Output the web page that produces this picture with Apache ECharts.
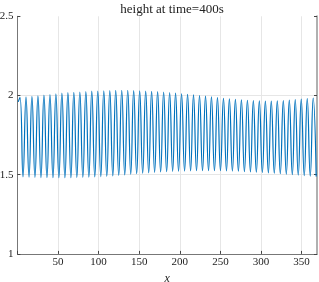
<!DOCTYPE html>
<html><head><meta charset="utf-8">
<script src="https://cdn.jsdelivr.net/npm/echarts@6/dist/echarts.min.js"></script>
<style>html,body{margin:0;padding:0;background:#fff}#c{width:319px;height:282px}</style>
</head><body><div id="c"></div>
<script>
const titleText = 'height at time=400s';
const xName = 'x';
const yTicks = [1, 1.5, 2, 2.5];
const xTicks = [50, 100, 150, 200, 250, 300, 350];
const startPoint = [1, 1.96];
const peakX = [3.2,10.6,17.9,25.3,32.7,40.1,47.4,54.8,62.2,69.5,76.9,84.3,91.6,99.0,106.4,113.8,121.1,128.5,135.9,143.2,150.6,158.0,165.3,172.7,180.1,187.5,194.8,202.2,209.6,216.9,224.3,231.7,239.0,246.4,253.8,261.1,268.5,275.9,283.3,290.6,298.0,305.4,312.7,320.1,327.5,334.9,342.2,349.6,357.0,364.3];
const peakY = [1.988,1.991,1.994,1.998,2.002,2.006,2.011,2.015,2.018,2.020,2.022,2.024,2.027,2.028,2.030,2.031,2.032,2.033,2.033,2.031,2.030,2.028,2.026,2.024,2.022,2.019,2.015,2.011,2.007,2.004,2.000,1.996,1.992,1.987,1.982,1.979,1.976,1.973,1.970,1.968,1.966,1.965,1.965,1.966,1.968,1.971,1.974,1.977,1.980,1.983];
const troughX = [6.9,14.3,21.6,29.0,36.4,43.8,51.1,58.5,65.9,73.2,80.6,88.0,95.3,102.7,110.1,117.5,124.8,132.2,139.6,146.9,154.3,161.7,169.0,176.4,183.8,191.2,198.5,205.9,213.3,220.6,228.0,235.4,242.7,250.1,257.5,264.8,272.2,279.6,287.0,294.3,301.7,309.1,316.4,323.8,331.2,338.6,345.9,353.3,360.7,368.0];
const troughY = [1.486,1.484,1.483,1.482,1.481,1.481,1.481,1.481,1.481,1.482,1.483,1.484,1.486,1.488,1.490,1.492,1.495,1.499,1.503,1.506,1.509,1.512,1.515,1.517,1.519,1.521,1.522,1.523,1.524,1.525,1.525,1.525,1.525,1.525,1.524,1.523,1.522,1.520,1.518,1.516,1.514,1.512,1.509,1.506,1.503,1.500,1.497,1.494,1.491,1.489];

const data = [startPoint];
for (let i = 0; i < peakX.length; i++) {
  data.push([peakX[i], peakY[i]]);
  data.push([troughX[i], troughY[i]]);
}

const serif = '"Liberation Serif", "DejaVu Serif", serif';
const chart = echarts.init(document.getElementById('c'), null, {renderer: 'canvas'});
chart.setOption({
  animation: false,
  title: {text: titleText, left: 167, top: -2, textAlign: 'center',
    textStyle: {fontFamily: serif, fontWeight: 'normal', fontSize: 13, color: '#222'}},
  grid: {left: 17.4, right: 2, top: 16.3, bottom: 28.1, containLabel: false, outerBoundsMode: 'none'},
  xAxis: {
    type: 'value', min: 0, max: 369, interval: 50,
    name: xName, nameLocation: 'middle', nameGap: 17,
    nameTextStyle: {fontFamily: serif, fontStyle: 'italic', fontSize: 12, color: '#222'},
    axisLine: {show: true, onZero: false, lineStyle: {color: '#777', width: 1}},
    axisTick: {show: true, inside: true, length: 3, lineStyle: {color: '#444'}},
    axisLabel: {fontFamily: serif, fontSize: 11, color: '#222', margin: 3, showMaxLabel: false,
      formatter: v => (xTicks.indexOf(v) >= 0 ? String(v) : '')},
    splitLine: {show: true, lineStyle: {color: '#e6e6e6', width: 1}}
  },
  yAxis: [{
    type: 'value', min: 1, max: 2.5, interval: 0.5,
    axisLine: {show: true, lineStyle: {color: '#777', width: 1}},
    axisTick: {show: true, inside: true, length: 3, lineStyle: {color: '#444'}},
    axisLabel: {fontFamily: serif, fontSize: 11, color: '#222', margin: 4,
      formatter: v => (yTicks.indexOf(v) >= 0 ? String(v) : '')},
    splitLine: {show: true, showMaxLine: false, lineStyle: {color: '#e6e6e6', width: 1}}
  }, {
    type: 'value', min: 1, max: 2.5, interval: 0.5, position: 'right',
    axisLine: {show: true, lineStyle: {color: '#b0b0b0', width: 2}},
    axisTick: {show: true, inside: true, length: 3, lineStyle: {color: '#444'}},
    axisLabel: {show: false}, splitLine: {show: false}
  }],
  series: [{
    type: 'line', data: data, showSymbol: false, smooth: 0.5,
    lineStyle: {color: '#0072BD', width: 1.2},
    clip: true
  }]
});
</script></body></html>
